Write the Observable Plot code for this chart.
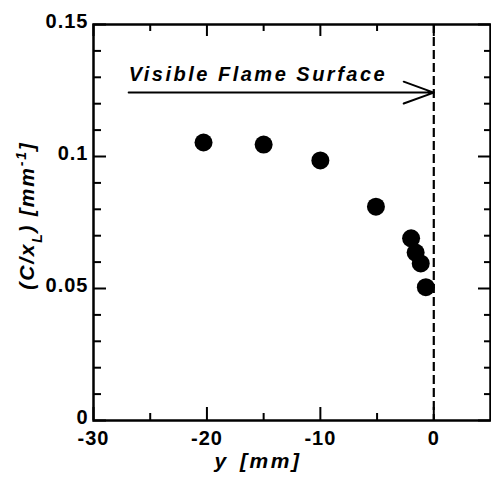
<!DOCTYPE html>
<html><head><meta charset="utf-8">
<script src="https://cdn.jsdelivr.net/npm/d3@7"></script>
<script src="https://cdn.jsdelivr.net/npm/@observablehq/plot@0.6"></script>
<style>
body{margin:0;background:#fff;}
#c svg{font-family:"Liberation Sans",Arial,sans-serif;}
</style></head>
<body><div id="c"></div>
<script>
const yPos = [-20.3, -15.0, -10.0, -5.1, -2.0, -1.6, -1.15, -0.7];
const cxl  = [0.1053, 0.1045, 0.0985, 0.0810, 0.0690, 0.0636, 0.0595, 0.0505];
const xMajor = [-30, -20, -10, 0];
const xMinor = [-25, -15, -5];
const yMajor = [0, 0.05, 0.1, 0.15];
const yMinor = [0.01,0.02,0.03,0.04,0.06,0.07,0.08,0.09,0.11,0.12,0.13,0.14];
const annotText = ["Visible Flame Surface"];
const arrowStart = [-26.9];
const arrowLevel = [0.1242];
const flameX = [0];

const data = yPos.map((x,i)=>({x, y: cxl[i]}));
const W = 491, H = 478, ML = 93, MR = 1, MT = 24, MB = 58;
const FW = W - ML - MR, FH = H - MT - MB;
const XD = [-30, 5], YD = [0, 0.15];
const ky = (YD[1] - YD[0]) / FH;   // data units per pixel (y)
const kx = (XD[1] - XD[0]) / FW;   // data units per pixel (x)
const bold = {fontWeight:"bold", fontSize:20};
const tk = {strokeWidth: 2, stroke: "black"};

const chart = Plot.plot({
  width: W, height: H,
  marginLeft: ML, marginRight: MR, marginTop: MT, marginBottom: MB,
  x: {domain: XD},
  y: {domain: YD},
  style: {fontFamily: '"Liberation Sans",Arial,sans-serif', color: "black", background: "white"},
  marks: [
    Plot.axisX({anchor:"bottom", ticks: xMajor, tickSize: 0, tickPadding: 10, label: null, tickFormat: d=>String(d), ...bold}),
    Plot.axisY({anchor:"left", ticks: yMajor, tickSize: 0, tickPadding: 5, label: null, tickFormat: d=>String(d), dy: -3, ...bold}),
    Plot.frame({strokeWidth: 2.5}),
    Plot.ruleX(flameX, {strokeDasharray: "9,4", strokeWidth: 2.2}),
    Plot.arrow(arrowLevel, {x1: arrowStart, x2: flameX, y1: d=>d, y2: d=>d, headLength: 24, headAngle: 40, strokeWidth: 2, stroke: "black", bend: 0, insetEnd: 0}),
    Plot.text(annotText, {x: arrowStart, y: arrowLevel, text: d=>d, textAnchor: "start", dy: -18, fontSize: 20, fontWeight: "bold", fontStyle: "italic", fill: "black", className: "annot"}),
    Plot.dot(data, {x: "x", y: "y", r: 9, fill: "black", stroke: "none"}),
    Plot.text(["y [mm]"], {frameAnchor: "bottom", textAnchor: "middle", dx: -34, dy: 47, text: d=>d, fontSize: 21, fontWeight: "bold", fontStyle: "italic", fill: "black", className: "xlab"}),
    Plot.text(["YLAB"], {frameAnchor: "left", textAnchor: "middle", dx: -66, dy: -7, rotate: -90, text: d=>d, fontSize: 21, fontWeight: "bold", fontStyle: "italic", fill: "black", className: "ylab"}),
    // inward ticks (drawn last, on top)
    Plot.ruleX(xMajor, {x: d=>d, y1: YD[0], y2: YD[0] + 13*ky, ...tk}),
    Plot.ruleX(xMinor, {x: d=>d, y1: YD[0], y2: YD[0] + 7*ky, ...tk}),
    Plot.ruleX(xMajor, {x: d=>d, y1: YD[1] - 12*ky, y2: YD[1], ...tk}),
    Plot.ruleX(xMinor, {x: d=>d, y1: YD[1] - 7*ky, y2: YD[1], ...tk}),
    Plot.ruleY(yMajor, {y: d=>d, x1: XD[0], x2: XD[0] + 13*kx, ...tk}),
    Plot.ruleY(yMinor, {y: d=>d, x1: XD[0], x2: XD[0] + 8*kx, ...tk}),
    Plot.ruleY(yMajor, {y: d=>d, x1: XD[1] - 12*kx, x2: XD[1], ...tk}),
    Plot.ruleY(yMinor, {y: d=>d, x1: XD[1] - 6*kx, x2: XD[1], ...tk})
  ]
});
document.getElementById("c").appendChild(chart);
const svg = d3.select(chart);
svg.selectAll(".annot text").style("letter-spacing","2.5px");
svg.selectAll(".xlab text").style("letter-spacing","2.5px").style("word-spacing","3px");
const yl = svg.select(".ylab text");
yl.text(null).style("letter-spacing","1.8px");
yl.append("tspan").text("(C/x");
yl.append("tspan").attr("baseline-shift","sub").attr("font-size",14).text("L");
yl.append("tspan").text(") [mm");
yl.append("tspan").attr("baseline-shift","super").attr("font-size",14).text("-1");
yl.append("tspan").text("]");
svg.selectAll("g[aria-label='x-axis tick label'] text, g[aria-label='y-axis tick label'] text").style("letter-spacing","1px");
</script></body></html>
